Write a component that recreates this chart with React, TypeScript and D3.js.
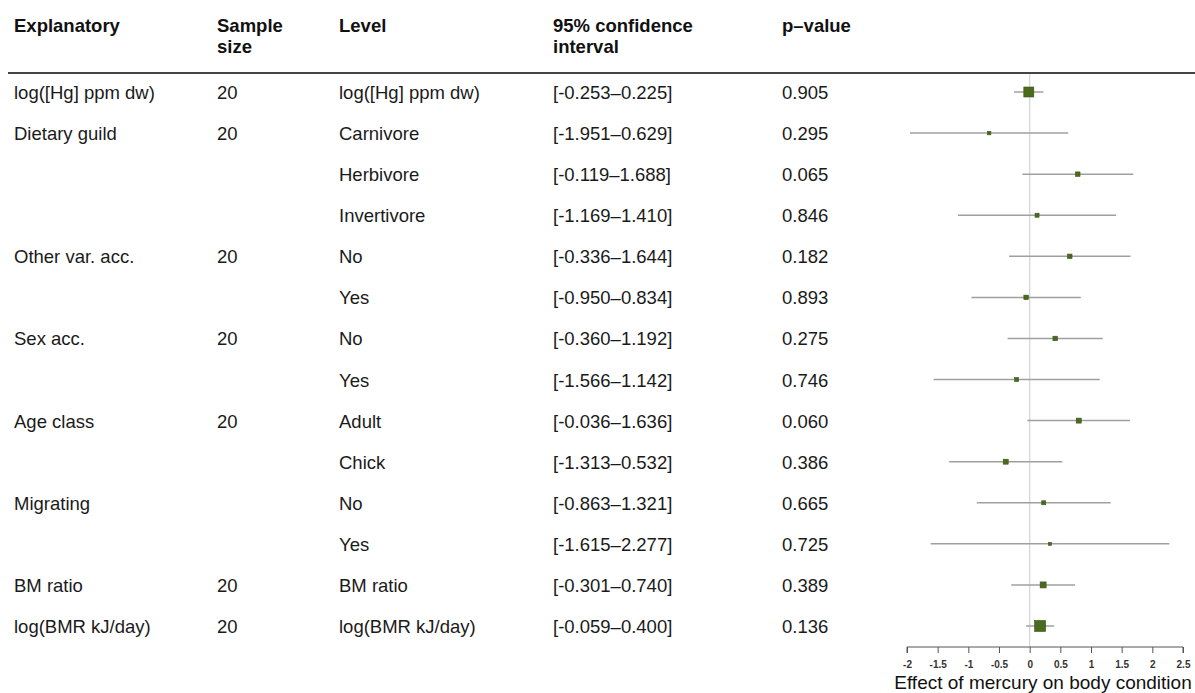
import { useEffect, useRef } from 'react';
import * as d3 from 'd3';

const explanatory = ['log([Hg] ppm dw)', 'Dietary guild', '', '', 'Other var. acc.', '', 'Sex acc.', '', 'Age class', '', 'Migrating', '', 'BM ratio', 'log(BMR kJ/day)'];
const sampleSize = ['20', '20', '', '', '20', '', '20', '', '20', '', '', '', '20', '20'];
const levels = ['log([Hg] ppm dw)', 'Carnivore', 'Herbivore', 'Invertivore', 'No', 'Yes', 'No', 'Yes', 'Adult', 'Chick', 'No', 'Yes', 'BM ratio', 'log(BMR kJ/day)'];
const lower = [-0.253, -1.951, -0.119, -1.169, -0.336, -0.95, -0.36, -1.566, -0.036, -1.313, -0.863, -1.615, -0.301, -0.059];
const upper = [0.225, 0.629, 1.688, 1.41, 1.644, 0.834, 1.192, 1.142, 1.636, 0.532, 1.321, 2.277, 0.74, 0.4];
const pValues = ['0.905', '0.295', '0.065', '0.846', '0.182', '0.893', '0.275', '0.746', '0.060', '0.386', '0.665', '0.725', '0.389', '0.136'];
// relative box weights
const weights = [10, 3.5, 4.5, 4, 4.5, 4.5, 4.5, 4, 5, 5, 4, 3, 6, 11];
const xTicks = [-2, -1.5, -1, -0.5, 0, 0.5, 1, 1.5, 2, 2.5];

const fmt = (v: number) => v.toFixed(3);

export default function App() {
  const svgRef = useRef<SVGSVGElement | null>(null);

  useEffect(() => {
    if (!svgRef.current) return;
    const svg = d3.select(svgRef.current);
    svg.selectAll('*').remove();

    const width = 1195;
    const height = 693;
    const font = 'Liberation Sans, Arial, sans-serif';
    const cols = [14, 217, 339, 553, 782];

    const x = d3.scaleLinear().domain([-2, 2.5]).range([907, 1183]);
    const y = d3
      .scalePoint<number>()
      .domain(d3.range(levels.length))
      .range([92, 626]);

    svg.attr('width', width).attr('height', height).style('font-family', font);

    // header
    const header = svg.append('g').attr('font-weight', 'bold').attr('font-size', 18.5).attr('fill', '#111');
    const headLines: [number, string[]][] = [
      [cols[0], ['Explanatory']],
      [cols[1], ['Sample', 'size']],
      [cols[2], ['Level']],
      [cols[3], ['95% confidence', 'interval']],
      [cols[4], ['p\u2013value']],
    ];
    headLines.forEach(([cx, lines]) => {
      lines.forEach((t, i) => {
        header.append('text').attr('x', cx).attr('y', 32 + i * 21).text(t);
      });
    });

    svg.append('line')
      .attr('x1', 8).attr('x2', 1195)
      .attr('y1', 73).attr('y2', 73)
      .attr('stroke', '#444').attr('stroke-width', 2);

    // table body
    const body = svg.append('g').attr('font-size', 18.5).attr('fill', '#1a1a1a');
    levels.forEach((lvl, i) => {
      const yy = y(i)! + 7;
      const cells = [explanatory[i], sampleSize[i], lvl, `[${fmt(lower[i])}\u2013${fmt(upper[i])}]`, pValues[i]];
      cells.forEach((t, j) => {
        if (t) body.append('text').attr('x', cols[j]).attr('y', yy).text(t);
      });
    });

    // zero reference line
    svg.append('line')
      .attr('x1', x(0)).attr('x2', x(0))
      .attr('y1', 74).attr('y2', 647)
      .attr('stroke', '#d4d4d4').attr('stroke-width', 1.2);

    // CIs and boxes
    const g = svg.append('g');
    levels.forEach((_, i) => {
      const yy = y(i)!;
      g.append('line')
        .attr('x1', x(lower[i])).attr('x2', x(upper[i]))
        .attr('y1', yy).attr('y2', yy)
        .attr('stroke', '#a0a0a0').attr('stroke-width', 1.5);
      const mid = (lower[i] + upper[i]) / 2;
      const s = weights[i];
      g.append('rect')
        .attr('x', x(mid) - s / 2).attr('y', yy - s / 2)
        .attr('width', s).attr('height', s)
        .attr('fill', '#4a6a1e').attr('stroke', '#3b5418').attr('stroke-width', 0.6);
    });

    // axis
    const axis = svg.append('g')
      .attr('transform', 'translate(0,647)')
      .call(d3.axisBottom(x).tickValues(xTicks).tickSize(6).tickFormat((d) => `${d}`));
    axis.select('.domain').attr('stroke', '#555').attr('d', `M${x(-2)},6V0H${x(2.5)}V6`);
    axis.selectAll('line').attr('stroke', '#555');
    axis.selectAll('text')
      .attr('font-family', font)
      .attr('font-size', 10)
      .attr('font-weight', 'bold')
      .attr('fill', '#333')
      .attr('y', 14);

    svg.append('text')
      .attr('x', (x(-2) + x(2.5)) / 2 - 2)
      .attr('y', 689)
      .attr('text-anchor', 'middle')
      .attr('font-size', 19)
      .attr('fill', '#111')
      .text('Effect of mercury on body condition');
  }, []);

  return <svg ref={svgRef} style={{ display: 'block', position: 'absolute', left: 0, top: 0 }} />;
}
